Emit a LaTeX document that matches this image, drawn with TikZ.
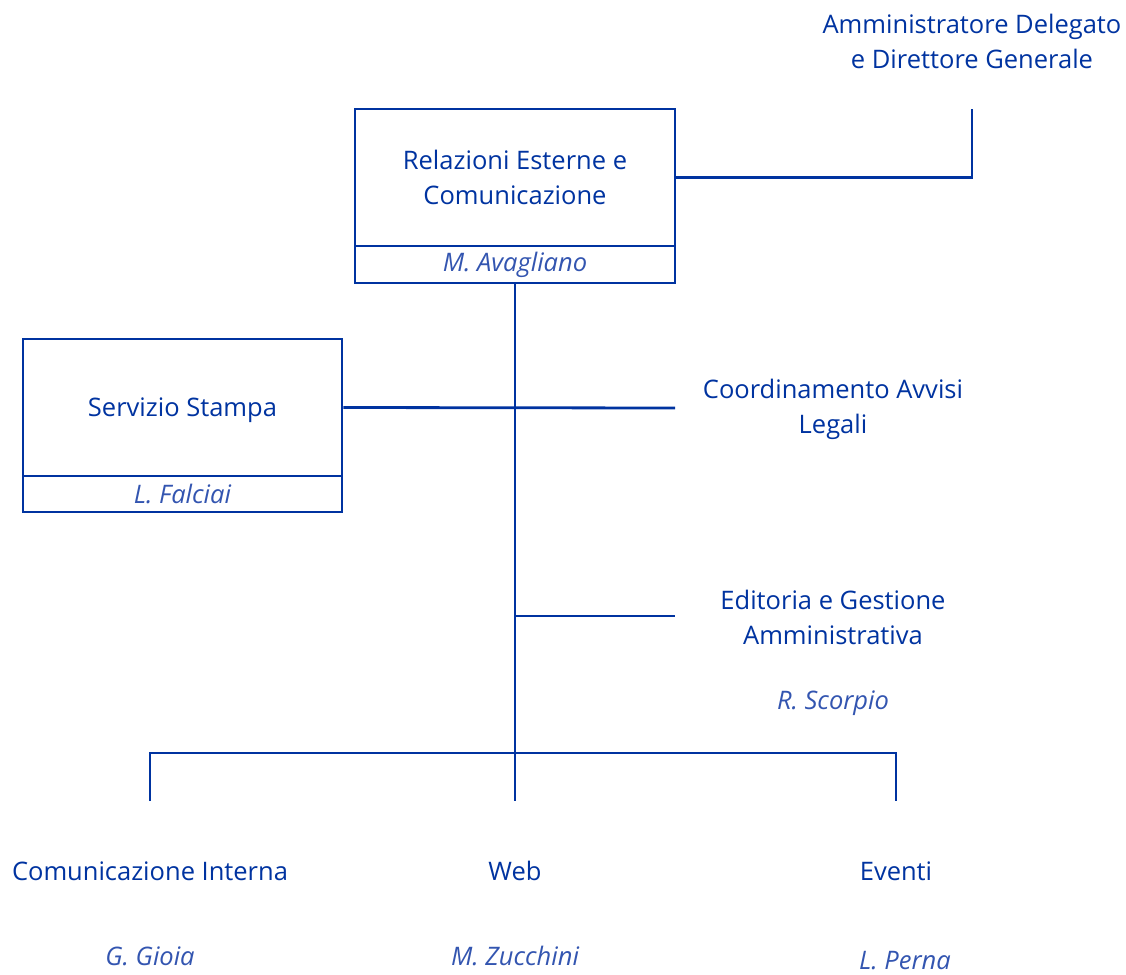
\documentclass[tikz,border=0pt]{standalone}
\usepackage{fontspec}
\setmainfont{Open Sans}
\usetikzlibrary{positioning}
\definecolor{orgblue}{HTML}{0033A0}
\definecolor{nameblue}{HTML}{3355B0}
\tikzstyle{unit box}=[draw=orgblue, line width=2.8pt, inner sep=0, align=center, text=orgblue, font=\fontsize{25.5}{35}\selectfont]
\tikzstyle{name box}=[draw=orgblue, line width=2.8pt, inner sep=0, text=nameblue, font=\fontsize{25.5}{35}\selectfont\itshape]
\tikzstyle{unit}=[inner sep=0, align=center, text=orgblue, font=\fontsize{25.5}{35}\selectfont]
\tikzstyle{person}=[inner sep=0, text=nameblue, font=\fontsize{25.5}{35}\selectfont\itshape]
\tikzstyle{link}=[draw=orgblue, line width=2.8pt]

\begin{document}
\begin{tikzpicture}[x=1pt, y=-1pt]
          \useasboundingbox (0,0) rectangle (1126,974);
          \node[unit] (ad) at (972,41) {Amministratore Delegato\\e Direttore Generale};
          \coordinate (ad_foot) at (972,109);

          \node[unit box, minimum width=320, minimum height=137] (rec) at (515,177.5) {Relazioni Esterne e\\Comunicazione};
          \node[name box, minimum width=320, minimum height=37] (rec_name) at (515,264.5) {M. Avagliano};

          \node[unit box, minimum width=319, minimum height=137, text depth=0pt] (stampa) at (182.5,407.5) {Servizio Stampa};
          \node[name box, minimum width=319, minimum height=36] (stampa_name) at (182.5,494) {L. Falciai};

          \node[unit] (avvisi) at (833,409) {Coordinamento Avvisi\\Legali};
          \coordinate (avvisi_in) at (675,408);
          \node[unit] (editoria) at (833,617) {Editoria e Gestione\\Amministrativa};
          \node[person] (editoria_name) at (833,703) {R. Scorpio};
          \coordinate (editoria_in) at (675,616);

          \coordinate (bar) at (515,753);
          \coordinate (ci_top) at (150,801);
          \coordinate (web_top) at (515,801);
          \coordinate (ev_top) at (896,801);
          \node[unit] (ci) at (150,871) {Comunicazione Interna};
          \node[person] (ci_name) at (150,956) {G. Gioia};
          \node[unit] (web) at (515,871) {Web};
          \node[person] (web_name) at (515,956) {M. Zucchini};
          \node[unit] (ev) at (896,871) {Eventi};
          \node[person] (ev_name) at (905,961) {L. Perna};

          % connectors
          \draw[link] (rec.east) -| (ad_foot);
          \draw[link] (rec_name.south) -- (web_top);
          \draw[link] (stampa.east) -- (avvisi_in);
          \draw[link] (rec_name.south |- editoria_in) -- (editoria_in);
          \draw[link] (ci_top) |- (bar) -| (ev_top);
        \end{tikzpicture}
\end{document}
